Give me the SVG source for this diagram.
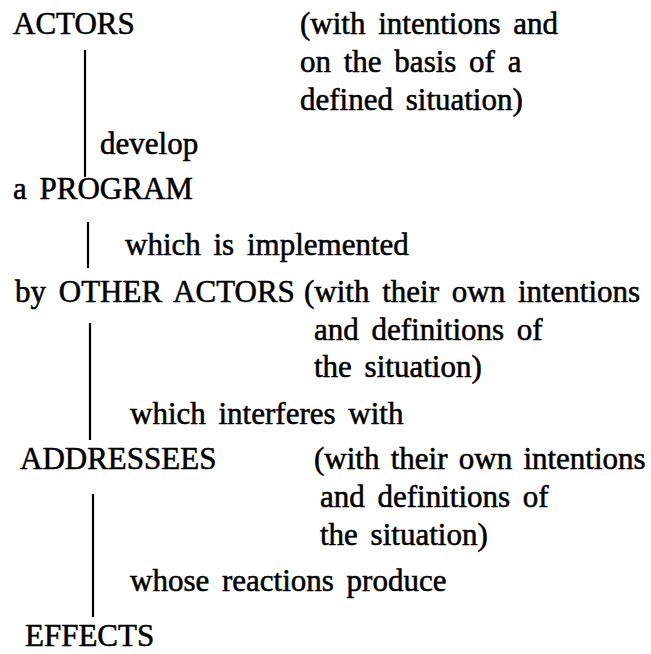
<svg xmlns="http://www.w3.org/2000/svg" width="651" height="654" viewBox="0 0 651 654">
<style>
text{font-family:"Liberation Serif","Times New Roman",serif;font-size:31px;fill:#000;word-spacing:5px;stroke:#000;stroke-width:0.55px}
.tight{word-spacing:3.5px}
.conn line{stroke:#000;stroke-width:2.2;stroke-linecap:butt}
</style>
<rect width="651" height="654" fill="#fff"/>
<g id="connectors" class="conn">
<line x1="85" y1="50" x2="85" y2="177"/>
<line x1="88" y1="222" x2="88" y2="268"/>
<line x1="90" y1="323" x2="90" y2="440"/>
<line x1="93" y1="494" x2="93" y2="617"/>
</g>
<g id="actors">
<text x="13" y="34">ACTORS</text>
<text x="300" y="34">(with intentions and</text>
<text x="300" y="72">on the basis of a</text>
<text x="300" y="110">defined situation)</text>
</g>
<g id="label-develop"><text x="100" y="154">develop</text></g>
<g id="program"><text x="13" y="199">a PROGRAM</text></g>
<g id="label-implemented"><text x="125" y="255">which is implemented</text></g>
<g id="other-actors">
<text x="15" y="302">by OTHER ACTORS</text>
<text x="304" y="302">(with their own intentions</text>
<text x="314" y="340">and definitions of</text>
<text x="314" y="377">the situation)</text>
</g>
<g id="label-interferes"><text x="130" y="424">which interferes with</text></g>
<g id="addressees">
<text x="20" y="469">ADDRESSEES</text>
<text class="tight" x="314" y="469">(with their own intentions</text>
<text x="320" y="507">and definitions of</text>
<text x="320" y="545">the situation)</text>
</g>
<g id="label-reactions"><text x="130" y="591">whose reactions produce</text></g>
<g id="effects"><text x="25" y="646">EFFECTS</text></g>
</svg>
